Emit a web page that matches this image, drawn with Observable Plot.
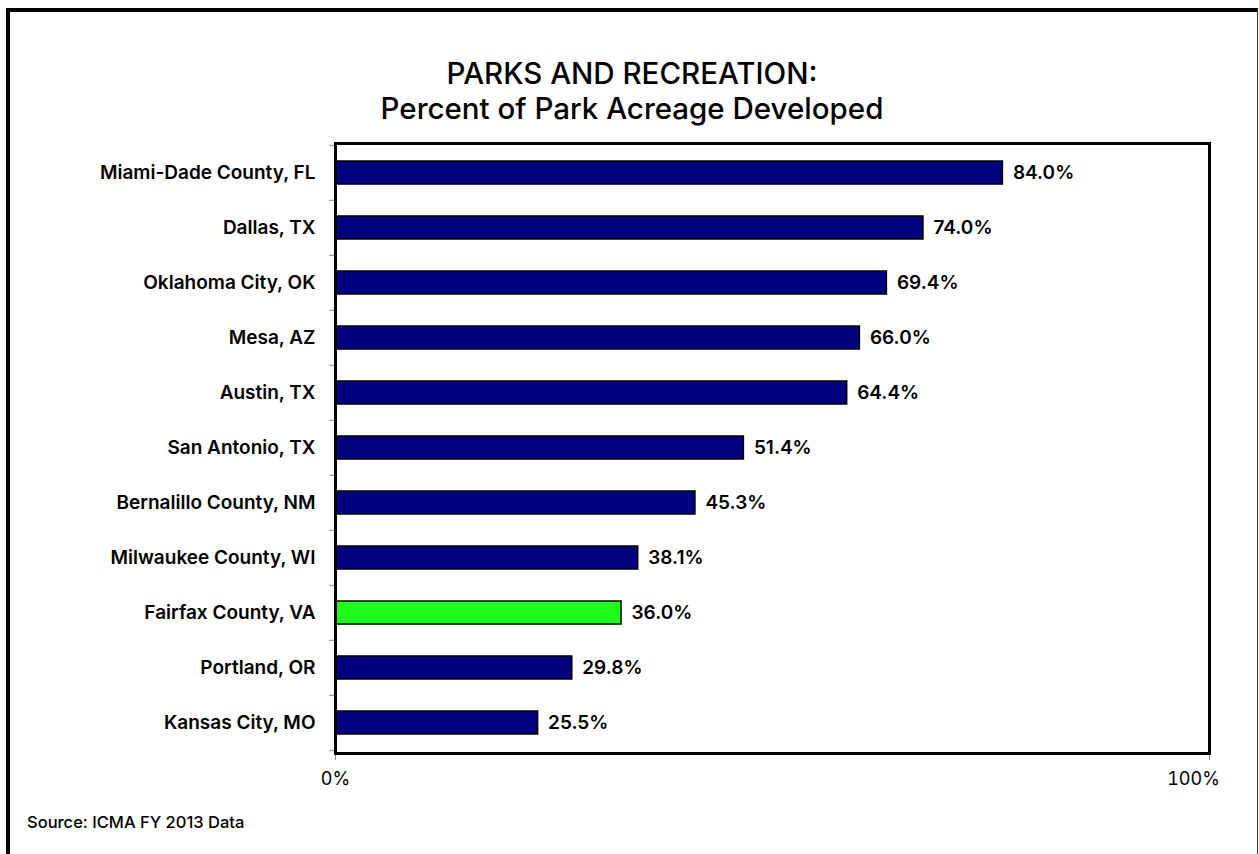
<!DOCTYPE html>
<html>
<head>
<meta charset="utf-8">
<script src="https://cdn.jsdelivr.net/npm/d3@7"></script>
<script src="https://cdn.jsdelivr.net/npm/@observablehq/plot@0.6"></script>
<style>
  html, body { margin: 0; padding: 0; background: #fff; width: 1259px; height: 854px; overflow: hidden; }
  #outer { position: absolute; left: 6px; top: 8px; width: 1247px; height: 900px;
           border-top: 4px solid #000; border-left: 4px solid #000; border-right: 1px solid #333; }
  #title { position: absolute; left: 0; top: 56px; width: 1264px; text-align: center;
           font-family: Inter, sans-serif; font-weight: 500; font-size: 29.5px; line-height: 35px; color: #000; }
  #chart { position: absolute; left: 0; top: 0; }
  #source { position: absolute; left: 27px; top: 812px; font-family: Inter, sans-serif;
            font-weight: 500; font-size: 16.5px; line-height: 20px; color: #000; }
</style>
</head>
<body>
<div id="outer"></div>
<div id="chart"></div>
<div id="title">PARKS AND RECREATION:<br>Percent of Park Acreage Developed</div>
<div id="source">Source: ICMA FY 2013 Data</div>
<script>
const categories = [
  "Miami-Dade County, FL",
  "Dallas, TX",
  "Oklahoma City, OK",
  "Mesa, AZ",
  "Austin, TX",
  "San Antonio, TX",
  "Bernalillo County, NM",
  "Milwaukee County, WI",
  "Fairfax County, VA",
  "Portland, OR",
  "Kansas City, MO"
];
const values = [84.0, 74.0, 69.4, 66.0, 64.4, 51.4, 45.3, 38.1, 36.0, 29.8, 25.5];
const highlight = "Fairfax County, VA";
const xTickValues = [0, 110];
const xTickLabels = ["0%", "100%"];

const data = categories.map((c, i) => ({name: c, value: values[i]}));

const W = 1259, H = 854;
const mTop = 143, mBottom = 101, mLeft = 335, mRight = 50;
const step = (H - mTop - mBottom) / categories.length;

const labelFont = "Inter, sans-serif";

const chart = Plot.plot({
  width: W,
  height: H,
  marginTop: mTop,
  marginBottom: mBottom,
  marginLeft: mLeft,
  marginRight: mRight,
  style: {fontFamily: labelFont, background: "transparent", overflow: "visible"},
  x: {domain: [0, 110]},
  y: {domain: categories, paddingInner: 0.58, paddingOuter: 0.29},
  marks: [
    Plot.barX(data, {
      y: "name", x: "value",
      fill: d => d.name === highlight ? "#1EFF1E" : "#000080",
      stroke: "#000", strokeWidth: 1.5
    }),
    Plot.text(data, {
      y: "name", x: "value",
      text: d => d.value.toFixed(1) + "%",
      textAnchor: "start", dx: 10,
      fontSize: 19, fontWeight: 600, fill: "#000"
    }),
    // category labels
    Plot.axisY({tickSize: 0, tickPadding: 20, fontSize: 19, fontWeight: 600, fill: "#000", label: null}),
    // tick marks at category boundaries
    Plot.axisY({ticks: categories, tickSize: 6, stroke: "#888", tickFormat: () => "", dy: -step / 2, label: null}),
    Plot.axisY({ticks: categories.slice(-1), tickSize: 6, stroke: "#888", tickFormat: () => "", dy: step / 2, label: null}),
    // x axis
    Plot.axisX({ticks: xTickValues.slice(0, 1), tickSize: 7, tickPadding: 12, stroke: "#888", fill: "#000",
      fontSize: 18, tickFormat: () => xTickLabels[0], label: null}),
    Plot.axisX({ticks: xTickValues.slice(1), tickSize: 7, stroke: "#888", tickPadding: 0, fill: "none",
      tickFormat: () => "", label: null}),
    Plot.axisX({ticks: xTickValues.slice(1), tickSize: 0, tickPadding: 19, fill: "#000", dx: -16,
      fontSize: 18, tickFormat: () => xTickLabels[1], label: null}),
    Plot.frame({stroke: "#000", strokeWidth: 3})
  ]
});
document.getElementById("chart").appendChild(chart);
</script>
</body>
</html>
